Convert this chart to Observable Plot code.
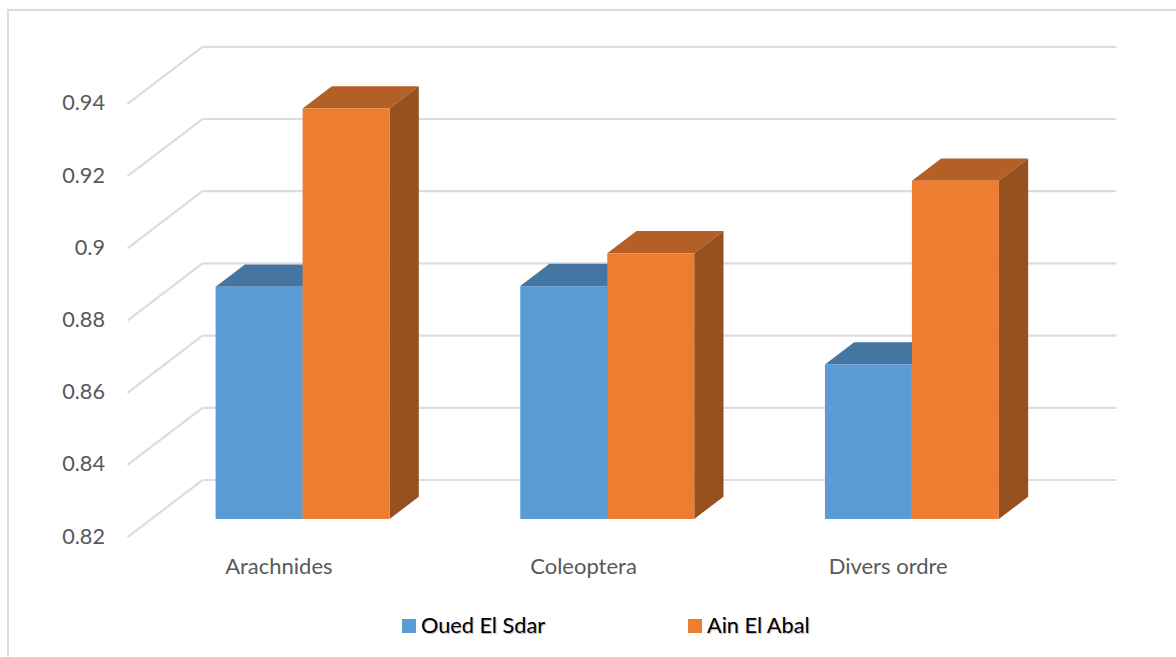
<!DOCTYPE html>
<html>
<head>
<meta charset="utf-8">
<script src="https://cdn.jsdelivr.net/npm/d3@7"></script>
<script src="https://cdn.jsdelivr.net/npm/@observablehq/plot@0.6"></script>
<style>
  html, body { margin: 0; padding: 0; background: #fff; overflow: hidden; }
  #page { position: relative; width: 1176px; height: 657px; overflow: hidden; font-family: Lato, sans-serif; }
  #frame { position: absolute; left: 7px; top: 9px; width: 1200px; height: 700px;
           border-top: 2px solid #dcdcdc; border-left: 2px solid #dcdcdc; }
  #chart { position: absolute; left: 0; top: 0; }
  #chart svg { display: block; }
  .key { position: absolute; top: 611px; display: flex; align-items: center; height: 28px;
         font-size: 21.7px; color: #000; text-shadow: 1px 1px 1px rgba(0,0,0,.28); white-space: nowrap; }
  .key i { display: block; width: 14px; height: 14px; margin-right: 5px; position: relative; top: 1px; }
</style>
</head>
<body>
<div id="page">
  <div id="frame"></div>
  <div id="chart"></div>
</div>
<script>
const categories = ["Arachnides", "Coleoptera", "Divers ordre"];
const oued = [0.8843, 0.8845, 0.8628];
const ain = [0.9337, 0.8936, 0.9137];
const seriesNames = ["Oued El Sdar", "Ain El Abal"];
const valueTicks = [0.82, 0.84, 0.86, 0.88, 0.9, 0.92, 0.94];
const base = 0.82;

const palette = {
  "Oued El Sdar": {front: "#5b9bd5", top: "#4576a2", side: "#3a6287"},
  "Ain El Abal": {front: "#ed7d31", top: "#b45f25", side: "#97501f"}
};

// Oblique projection: a point at depth d (0 front, 1 back) shifts by these amounts in data units.
const shiftX = 0.2461;
const shiftY = 0.01584;
const barWidth = 0.2855;
const depthFront = 0.31;
const depthBack = 0.70;

const bars = seriesNames.flatMap((name, s) => (s === 0 ? oued : ain).map((value, i) => ({
  name, value,
  x1: i + 0.5 - barWidth + s * barWidth,
  x2: i + 0.5 - barWidth + (s + 1) * barWidth
})));

const px = (u, d) => u + d * shiftX;
const py = (v, d) => v + d * shiftY;

// Each side face and top face is a parallelogram described by its two parallel edges.
const sideFace = (b, i) => [depthFront, depthBack].map(d => ({
  id: i, x: px(b.x2, d), y1: py(base, d), y2: py(b.value, d)
}));
const topFace = (b, i) => [depthFront, depthBack].map(d => ({
  id: i, y: py(b.value, d), x1: px(b.x1, d), x2: px(b.x2, d)
}));

const barLayers = seriesNames.flatMap(name => {
  const own = bars.filter(b => b.name === name);
  const colors = palette[name];
  return [
    Plot.areaX(own.flatMap(topFace), {y: "y", x1: "x1", x2: "x2", z: "id", fill: colors.top}),
    Plot.areaY(own.flatMap(sideFace), {x: "x", y1: "y1", y2: "y2", z: "id", fill: colors.side}),
    Plot.rect(own, {
      x1: b => px(b.x1, depthFront), x2: b => px(b.x2, depthFront),
      y1: () => py(base, depthFront), y2: b => py(b.value, depthFront),
      fill: colors.front
    })
  ];
});

const gridColor = "#dddddd";
const chart = Plot.plot({
  width: 1176,
  height: 600,
  marginLeft: 127,
  marginRight: 60,
  marginTop: 46.3,
  marginBottom: 63.3,
  style: {background: "transparent", fontFamily: "Lato, sans-serif", overflow: "visible"},
  x: {domain: [0, 3 + shiftX], axis: null},
  y: {domain: [base, 0.94 + shiftY], axis: null},
  marks: [
    Plot.link(valueTicks, {x1: 0, x2: shiftX, y1: d => d, y2: d => d + shiftY, stroke: gridColor, strokeWidth: 2.2}),
    Plot.link(valueTicks, {x1: shiftX, x2: 3 + shiftX, y1: d => d + shiftY, y2: d => d + shiftY, stroke: gridColor, strokeWidth: 2.2}),
    ...barLayers,
    Plot.axisY({
      ticks: valueTicks, tickFormat: d => String(d), tickSize: 0, tickPadding: 22.5,
      fontSize: 21.7, fill: "#595959", label: null, dy: -0.5
    }),
    Plot.text(categories, {
      x: (d, i) => i + 0.5, y: () => base, text: d => d, dx: -1, dy: 29.5,
      fontSize: 22, fill: "#595959"
    })
  ]
});
document.getElementById("chart").appendChild(chart);

// Legend, placed under the plot
const page = document.getElementById("page");
const keyOffsets = [402, 688];
seriesNames.forEach((name, i) => {
  const key = document.createElement("div");
  key.className = "key";
  key.style.left = keyOffsets[i] + "px";
  const swatch = document.createElement("i");
  swatch.style.background = palette[name].front;
  key.appendChild(swatch);
  key.appendChild(document.createTextNode(name));
  page.appendChild(key);
});
</script>
</body>
</html>
